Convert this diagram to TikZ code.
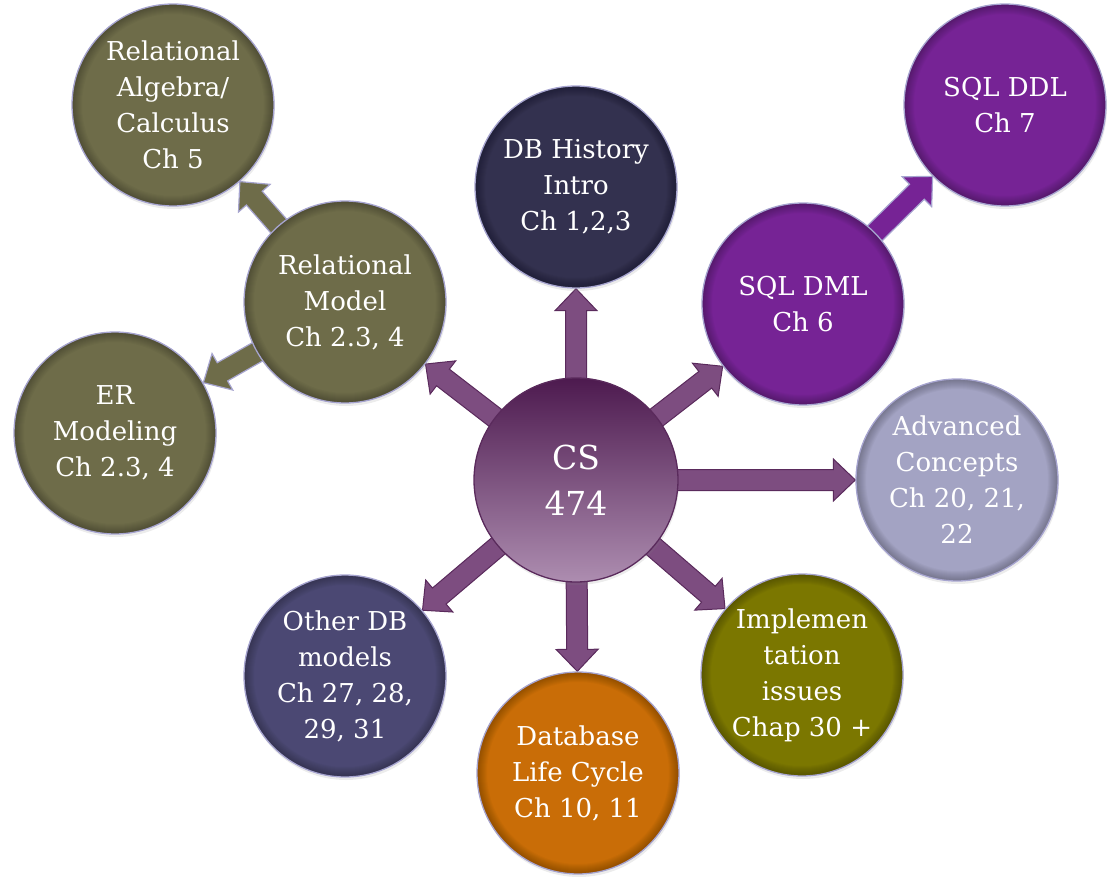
\documentclass[tikz,border=0pt]{standalone}
\usepackage{fontspec}
\setmainfont{DejaVu Serif}
\usetikzlibrary{calc,shadows}
\pgfdeclarelayer{background}
\pgfsetlayers{background,main}
\definecolor{cstop}{HTML}{4D1A4F}
\definecolor{csbot}{HTML}{AD8DB0}
\definecolor{csline}{HTML}{5A2A5C}
\definecolor{histc}{HTML}{33314F}
\definecolor{sqlc}{HTML}{762395}
\definecolor{advc}{HTML}{A3A3C3}
\definecolor{implc}{HTML}{7B7700}
\definecolor{lifec}{HTML}{C96D07}
\definecolor{otherc}{HTML}{4B4873}
\definecolor{olivec}{HTML}{6E6C49}
\definecolor{rimc}{HTML}{A7A5D0}
\definecolor{arrowc}{HTML}{7D4D80}
\definecolor{arrowhi}{HTML}{A07EA3}
\def\arsw{10.5pt}
\def\arhw{21pt}
\def\arhl{22pt}
\newcommand\blockarrow[3][]{%
  \path (#2) -- coordinate[pos=0] (bA) coordinate[pos=1] (bB) (#3);
  \coordinate (bS) at ($(bA)!-14pt!(bB)$);
  \coordinate (bH) at ($(bB)!\arhl!(bA)$);
  \draw[#1] ($(bS)!\arsw!90:(bB)$) -- ($(bH)!\arsw!-90:(bA)$) -- ($(bH)!\arhw!-90:(bA)$)
    -- (bB) -- ($(bH)!\arhw!90:(bA)$) -- ($(bH)!\arsw!90:(bA)$) -- ($(bS)!\arsw!-90:(bB)$) -- cycle;
}
\tikzset{
  topic/.style={circle, minimum size=202pt, inner sep=0pt, draw=rimc, line width=1.3pt,
    fill=#1, text=white, align=center, font=\fontsize{26}{36}\selectfont,
    drop shadow={opacity=0.15, shadow xshift=1pt, shadow yshift=-3pt},
    path picture={\foreach \k in {2,4,...,20}{\draw[black, opacity=0.028, line width=\k pt]
      (path picture bounding box.center) circle[radius=101pt];}}},
  centre/.style={circle, minimum size=204pt, inner sep=0pt, draw=csline, line width=1.3pt,
    top color=cstop, bottom color=csbot, text=white, align=center,
    font=\fontsize{33}{46}\selectfont,
    drop shadow={opacity=0.15, shadow xshift=1pt, shadow yshift=-3pt}},
  purplearrow/.style={fill=arrowc, draw=csline, line width=1pt, line join=miter},
  olivearrow/.style={fill=olivec, draw=rimc, line width=1.2pt, line join=miter},
  sqlarrow/.style={fill=sqlc, draw=rimc, line width=1.2pt, line join=miter}
}
\begin{document}
\begin{tikzpicture}[x=1pt,y=-1pt]
\useasboundingbox (0,0) rectangle (1120,889);
\node[centre] (cs) at (576,480) {CS\\474};
\node[topic=histc] (hist) at (576,187) {DB History\\Intro\\Ch 1,2,3};
\node[topic=sqlc] (dml) at (803,304) {SQL DML\\Ch 6};
\node[topic=sqlc] (ddl) at (1005,105) {SQL DDL\\Ch 7};
\node[topic=advc] (adv) at (957,480) {Advanced\\Concepts\\Ch 20, 21,\\22};
\node[topic=implc] (impl) at (802,675) {Implemen\\tation\\issues\\Chap 30 +};
\node[topic=lifec] (life) at (578,773) {Database\\Life Cycle\\Ch 10, 11};
\node[topic=otherc] (other) at (345,676) {Other DB\\models\\Ch 27, 28,\\29, 31};
\node[topic=olivec] (er) at (115,433) {ER\\Modeling\\Ch 2.3, 4};
\node[topic=olivec] (rel) at (345,302) {Relational\\Model\\Ch 2.3, 4};
\node[topic=olivec] (alg) at (173,105) {Relational\\Algebra/\\Calculus\\Ch 5};
\begin{pgfonlayer}{background}
\blockarrow[purplearrow]{cs}{hist}
\blockarrow[purplearrow]{cs}{dml}
\blockarrow[purplearrow]{cs}{adv}
\blockarrow[purplearrow]{cs}{impl}
\blockarrow[purplearrow]{cs}{life}
\blockarrow[purplearrow]{cs}{other}
\blockarrow[purplearrow]{cs}{rel}
\blockarrow[olivearrow]{rel}{alg}
\blockarrow[olivearrow]{rel}{er}
\blockarrow[sqlarrow]{dml}{ddl}
\end{pgfonlayer}
\end{tikzpicture}
\end{document}
